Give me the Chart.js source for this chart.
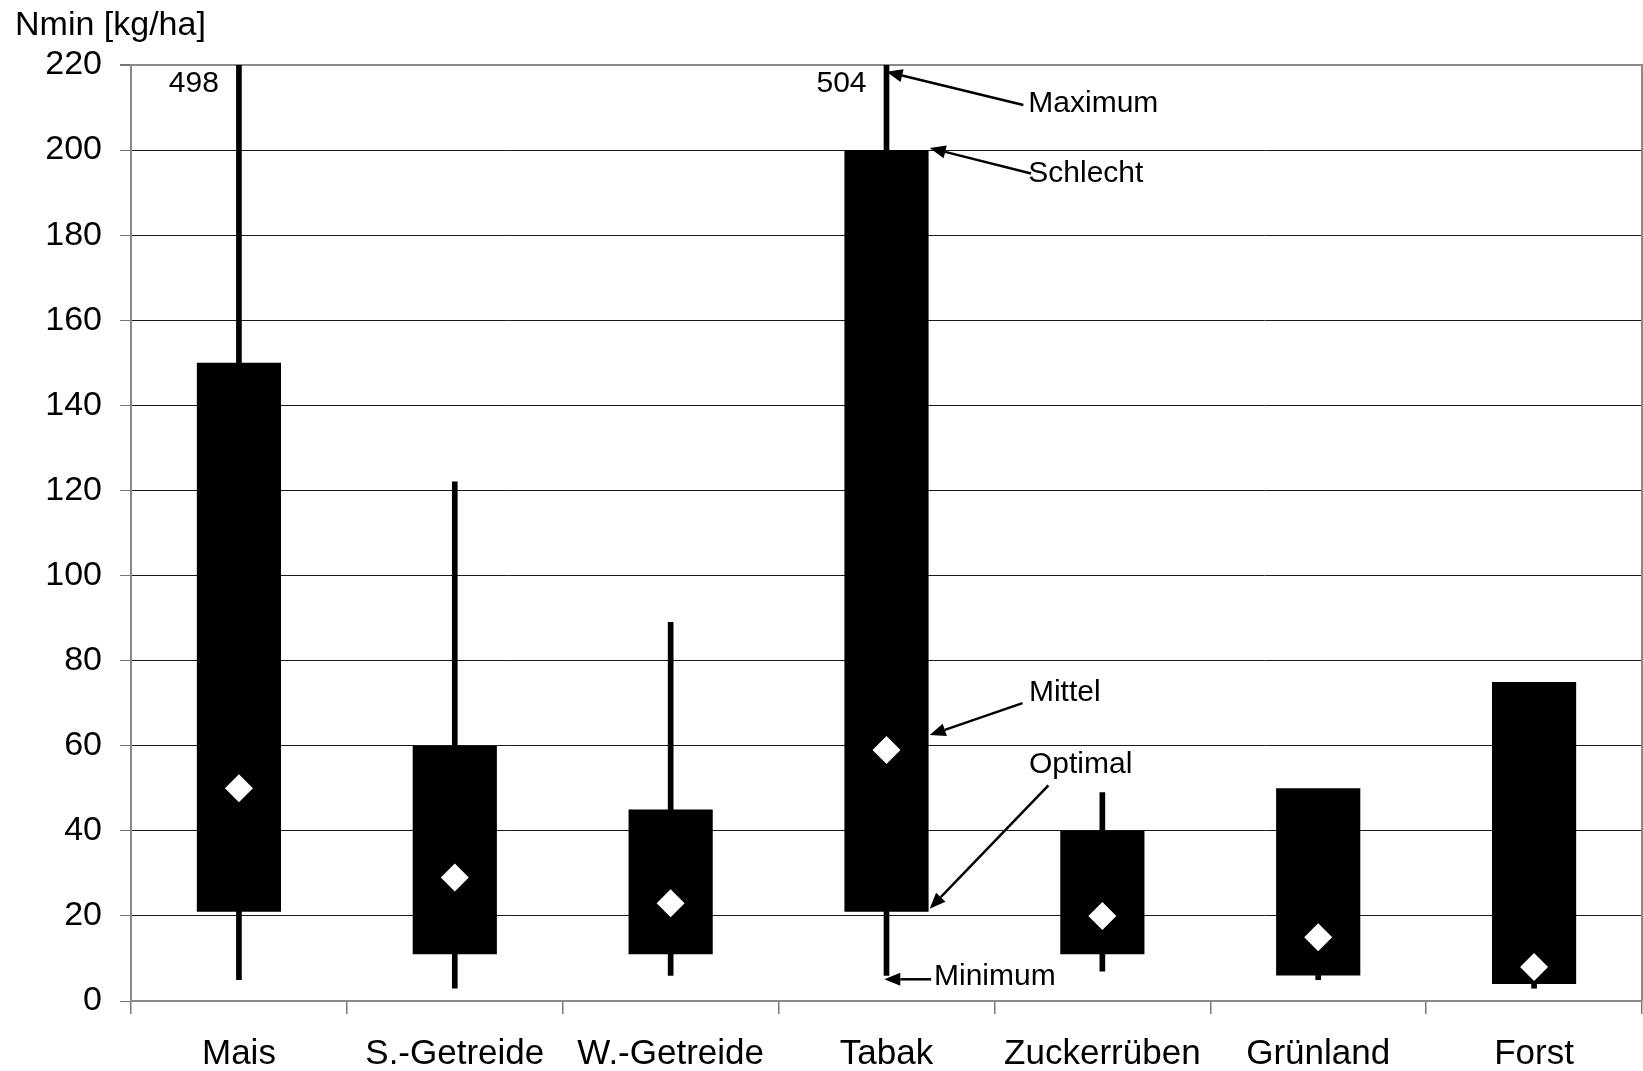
<!DOCTYPE html>
<html>
<head>
<meta charset="utf-8">
<title>Nmin nach Kultur</title>
<script src="https://cdn.jsdelivr.net/npm/chart.js@4.4.1/dist/chart.umd.min.js"></script>
<style>
  html, body { margin: 0; padding: 0; background: #fff; }
  #wrap { width: 1643px; height: 1071px; position: relative; }
</style>
</head>
<body>
<div id="wrap"><canvas id="c" width="1643" height="1071"></canvas></div>
<script>
// Nmin-Werte [kg/ha] je Kultur
const categories = ['Mais', 'S.-Getreide', 'W.-Getreide', 'Tabak', 'Zuckerrüben', 'Grünland', 'Forst'];
const minimum  = [5, 3, 6, 6, 7, 5, 3];
const optimal  = [21, 11, 11, 21, 11, 6, 4];
const mittel   = [50, 29, 23, 59, 20, 15, 8];
const schlecht = [150, 60, 45, 200, 40, 50, 75];
const maximum  = [498, 122, 89, 504, 49, 6, 4];
const yTicks   = [0, 20, 40, 60, 80, 100, 120, 140, 160, 180, 200, 220];
const yMax = 220;

const FONT = '"Liberation Sans", Arial, Helvetica, sans-serif';

// Erläuterungen mit Pfeilen an der Tabak-Säule (x als Kategorie-Index, y in kg/ha)
const notes = [
  { text: 'Maximum',  tx: 3.657, ty: 210.9, from: [3.634, 210.6], to: [3.0, 218.4] },
  { text: 'Schlecht', tx: 3.657, ty: 194.4, from: [3.67, 194.5],  to: [3.2, 200.5] },
  { text: 'Mittel',   tx: 3.66,  ty: 72.5,  from: [3.63, 70.0],   to: [3.2, 62.5] },
  { text: 'Optimal',  tx: 3.66,  ty: 55.5,  from: [3.75, 50.7],   to: [3.2, 21.7] },
  { text: 'Minimum',  tx: 3.22,  ty: 5.8,   from: [3.207, 5.1],   to: [2.99, 5.1] }
];

function arrow(ctx, x1, y1, x2, y2) {
  const ang = Math.atan2(y2 - y1, x2 - x1);
  const head = 16, half = 6.5;
  const bx = x2 - Math.cos(ang) * head, by = y2 - Math.sin(ang) * head;
  ctx.beginPath();
  ctx.moveTo(x1, y1);
  ctx.lineTo(bx, by);
  ctx.stroke();
  ctx.beginPath();
  ctx.moveTo(x2, y2);
  ctx.lineTo(bx + Math.sin(ang) * half, by - Math.cos(ang) * half);
  ctx.lineTo(bx - Math.sin(ang) * half, by + Math.cos(ang) * half);
  ctx.closePath();
  ctx.fill();
}

const decorations = {
  id: 'decorations',
  beforeDatasetsDraw(chart) {
    // Rahmen oben und rechts
    const { ctx, chartArea: a } = chart;
    ctx.save();
    ctx.strokeStyle = '#8a8a8a';
    ctx.lineWidth = 2;
    ctx.beginPath();
    ctx.moveTo(a.left, a.top);
    ctx.lineTo(a.right, a.top);
    ctx.lineTo(a.right, a.bottom);
    ctx.stroke();
    ctx.restore();
  },
  afterDatasetsDraw(chart) {
    const { ctx, scales: { x, y }, chartArea: a } = chart;
    ctx.save();
    // Achsentitel
    ctx.fillStyle = '#000';
    ctx.font = '34px ' + FONT;
    ctx.textAlign = 'left';
    ctx.textBaseline = 'alphabetic';
    ctx.fillText('Nmin [kg/ha]', 15, 35);

    // Werte oberhalb der Skala
    ctx.font = '30px ' + FONT;
    ctx.textAlign = 'right';
    ctx.textBaseline = 'middle';
    maximum.forEach((v, i) => {
      if (v > yMax) {
        ctx.fillText(String(v), x.getPixelForValue(i) - 20, a.top + 19);
      }
    });

    // Erläuterungen
    ctx.strokeStyle = '#000';
    ctx.fillStyle = '#000';
    ctx.lineWidth = 2.5;
    notes.forEach(n => {
      arrow(ctx,
        x.getPixelForValue(n.from[0]), y.getPixelForValue(n.from[1]),
        x.getPixelForValue(n.to[0]), y.getPixelForValue(n.to[1]));
    });
    ctx.textAlign = 'left';
    notes.forEach(n => {
      ctx.fillText(n.text, x.getPixelForValue(n.tx), y.getPixelForValue(n.ty));
    });
    ctx.restore();
  }
};

new Chart(document.getElementById('c'), {
  data: {
    labels: categories,
    datasets: [
      {
        type: 'line',
        label: 'Mittel',
        data: mittel,
        showLine: false,
        pointStyle: 'rectRot',
        pointRadius: 14,
        pointBackgroundColor: '#fff',
        pointBorderWidth: 0,
        order: 0
      },
      {
        type: 'bar',
        label: 'Optimal – Schlecht',
        data: optimal.map((v, i) => [v, schlecht[i]]),
        backgroundColor: '#000',
        borderWidth: 0,
        grouped: false,
        categoryPercentage: 1,
        barPercentage: 0.39,
        order: 1
      },
      {
        type: 'bar',
        label: 'Minimum – Maximum',
        data: minimum.map((v, i) => [v, maximum[i]]),
        backgroundColor: '#000',
        borderWidth: 0,
        grouped: false,
        barThickness: 5,
        order: 2
      }
    ]
  },
  options: {
    responsive: false,
    animation: false,
    layout: { autoPadding: false, padding: { top: 65, right: 1, left: 0, bottom: 0 } },
    plugins: { legend: { display: false }, tooltip: { enabled: false } },
    scales: {
      x: {
        type: 'category',
        offset: true,
        grid: {
          offset: true,
          drawOnChartArea: false,
          drawTicks: true,
          tickLength: 13,
          color: '#777',
          lineWidth: 1.5
        },
        border: { display: true, color: '#8a8a8a', width: 2 },
        ticks: {
          color: '#000',
          font: { family: FONT, size: 35 },
          padding: 19,
          maxRotation: 0,
          autoSkip: false
        },
        afterFit(scale) {
          scale.height = 70;
          scale.paddingLeft = 0;
          scale.paddingRight = 0;
        }
      },
      y: {
        type: 'linear',
        min: 0,
        max: yMax,
        afterBuildTicks(scale) { scale.ticks = yTicks.map(v => ({ value: v })); },
        grid: {
          color: ctx => (ctx.tick && ctx.tick.value === yMax) ? '#8a8a8a' : '#1a1a1a',
          lineWidth: ctx => (ctx.tick && ctx.tick.value === yMax) ? 2 : 1,
          tickColor: '#777',
          tickLength: 11
        },
        border: { display: true, color: '#8a8a8a', width: 2 },
        ticks: {
          color: '#000',
          font: { family: FONT, size: 34 },
          padding: 18
        },
        afterFit(scale) { scale.width = 131; }
      }
    }
  },
  plugins: [decorations]
});
</script>
</body>
</html>
